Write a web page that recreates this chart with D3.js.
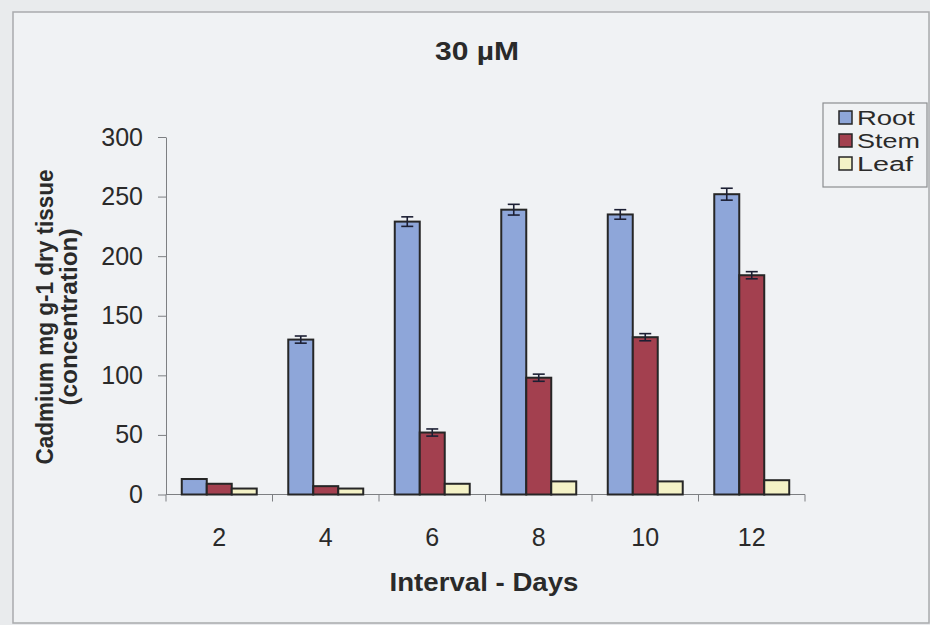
<!DOCTYPE html>
<html>
<head>
<meta charset="utf-8">
<script src="https://cdn.jsdelivr.net/npm/d3@7/dist/d3.min.js"></script>
<style>
  html, body { margin: 0; padding: 0; background: #e9ebed; }
  svg { display: block; }
  text { font-family: "Liberation Sans", Arial, sans-serif; fill: #2a2a2a; }
</style>
</head>
<body>
<svg id="chart" width="930" height="625"></svg>
<script>
// Cadmium concentration by tissue at 30 µM exposure
const days = ["2", "4", "6", "8", "10", "12"];
const seriesNames = ["Root", "Stem", "Leaf"];
const rootValues = [13, 130, 229, 239, 235, 252];
const stemValues = [9, 7, 52, 98, 132, 184];
const leafValues = [5, 5, 9, 11, 11, 12];
const rootErrors = [0, 3, 4, 4.5, 4, 5];
const stemErrors = [0, 0, 3, 3, 3, 3];
const leafErrors = [0, 0, 0, 0, 0, 0];
const yTicks = [0, 50, 100, 150, 200, 250, 300];

const seriesColors = { Root: "#8ea6d9", Stem: "#a3404f", Leaf: "#f4f2c6" };
const legendTextWidths = { Root: 58, Stem: 63, Leaf: 56 };

const values = { Root: rootValues, Stem: stemValues, Leaf: leafValues };
const errors = { Root: rootErrors, Stem: stemErrors, Leaf: leafErrors };

const svg = d3.select("#chart");

// paper panel with frame
svg.append("rect")
  .attr("x", 13).attr("y", 12).attr("width", 916).attr("height", 611)
  .attr("fill", "#f0f2f4").attr("stroke", "#a9abad").attr("stroke-width", 1.5);

const plot = { left: 166, right: 805, top: 137, bottom: 494.5 };

const x0 = d3.scaleBand().domain(days).range([plot.left, plot.right]).padding(0);
const groupGap = x0.bandwidth() * 0.296;
const x1 = d3.scaleBand().domain(seriesNames)
  .range([groupGap / 2, x0.bandwidth() - groupGap / 2]).padding(0);
const y = d3.scaleLinear().domain([0, 300]).range([plot.bottom, plot.top]);

// y axis
const yAxis = svg.append("g")
  .attr("transform", `translate(${plot.left},0)`)
  .call(d3.axisLeft(y).tickValues(yTicks).tickSize(8).tickPadding(15).tickSizeOuter(0));
yAxis.select(".domain").attr("stroke", "#7d7f82");
yAxis.selectAll(".tick line").attr("stroke", "#7d7f82");
yAxis.selectAll(".tick text")
  .attr("font-size", 25).attr("fill", "#2e2e2e")
  .style("font-family", "'Liberation Sans', Arial, sans-serif");

// x axis: ticks at category boundaries, labels centred
svg.append("line")
  .attr("x1", plot.left).attr("x2", plot.right)
  .attr("y1", plot.bottom).attr("y2", plot.bottom)
  .attr("stroke", "#7d7f82");
const boundaries = days.map(d => x0(d)).concat([x0(days[days.length - 1]) + x0.bandwidth()]);
svg.append("g").selectAll("line").data(boundaries).join("line")
  .attr("x1", d => d).attr("x2", d => d)
  .attr("y1", plot.bottom).attr("y2", plot.bottom + 7)
  .attr("stroke", "#7d7f82");
svg.append("g").selectAll("text").data(days).join("text")
  .attr("x", d => x0(d) + x0.bandwidth() / 2)
  .attr("y", 546)
  .attr("text-anchor", "middle")
  .attr("font-size", 25)
  .text(d => d);

// bars
const groups = svg.append("g").selectAll("g").data(days).join("g")
  .attr("transform", d => `translate(${x0(d)},0)`);

groups.selectAll("rect")
  .data((d, i) => seriesNames.map(s => ({ s, v: values[s][i], e: errors[s][i] })))
  .join("rect")
  .attr("x", d => x1(d.s))
  .attr("y", d => y(d.v))
  .attr("width", x1.bandwidth())
  .attr("height", d => y(0) - y(d.v))
  .attr("fill", d => seriesColors[d.s])
  .attr("stroke", "#262626")
  .attr("stroke-width", 2);

// error bars
const errData = (d, i) => seriesNames.map(s => ({ s, v: values[s][i], e: errors[s][i] })).filter(r => r.e > 0);
const err = groups.selectAll("g.err").data(errData).join("g").attr("class", "err")
  .attr("stroke", "#1c1f33").attr("stroke-width", 1.6);
err.append("line")
  .attr("x1", d => x1(d.s) + x1.bandwidth() / 2).attr("x2", d => x1(d.s) + x1.bandwidth() / 2)
  .attr("y1", d => y(d.v + d.e)).attr("y2", d => y(d.v - d.e));
err.append("line")
  .attr("x1", d => x1(d.s) + x1.bandwidth() / 2 - 6).attr("x2", d => x1(d.s) + x1.bandwidth() / 2 + 6)
  .attr("y1", d => y(d.v + d.e)).attr("y2", d => y(d.v + d.e));
err.append("line")
  .attr("x1", d => x1(d.s) + x1.bandwidth() / 2 - 6).attr("x2", d => x1(d.s) + x1.bandwidth() / 2 + 6)
  .attr("y1", d => y(d.v - d.e)).attr("y2", d => y(d.v - d.e));

// title
svg.append("text")
  .attr("x", 477).attr("y", 60)
  .attr("text-anchor", "middle")
  .attr("font-size", 25).attr("font-weight", "bold")
  .attr("textLength", 84).attr("lengthAdjust", "spacingAndGlyphs")
  .text("30 µM");

// axis titles
svg.append("text")
  .attr("x", 484).attr("y", 591)
  .attr("text-anchor", "middle")
  .attr("font-size", 25).attr("font-weight", "bold")
  .attr("textLength", 189).attr("lengthAdjust", "spacingAndGlyphs")
  .text("Interval - Days");

const yTitle = svg.append("g").attr("transform", "translate(0,317) rotate(-90)");
yTitle.append("text")
  .attr("x", 0).attr("y", 53)
  .attr("text-anchor", "middle")
  .attr("font-size", 23).attr("font-weight", "bold")
  .attr("textLength", 295).attr("lengthAdjust", "spacingAndGlyphs")
  .text("Cadmium mg g-1 dry tissue");
yTitle.append("text")
  .attr("x", 0).attr("y", 77)
  .attr("text-anchor", "middle")
  .attr("font-size", 23).attr("font-weight", "bold")
  .attr("textLength", 177).attr("lengthAdjust", "spacingAndGlyphs")
  .text("(concentration)");

// legend
const legend = svg.append("g");
legend.append("rect")
  .attr("x", 823).attr("y", 103).attr("width", 104).attr("height", 84)
  .attr("fill", "#f0f2f4").attr("stroke", "#8c8e90").attr("stroke-width", 1.2);
const items = legend.selectAll("g.item").data(seriesNames).join("g")
  .attr("class", "item")
  .attr("transform", (d, i) => `translate(839,${111 + i * 23})`);
items.append("rect")
  .attr("width", 13).attr("height", 13)
  .attr("fill", d => seriesColors[d])
  .attr("stroke", "#262626").attr("stroke-width", 1.5);
items.append("text")
  .attr("x", 18).attr("y", 13.5)
  .attr("font-size", 19.5)
  .attr("textLength", d => legendTextWidths[d]).attr("lengthAdjust", "spacingAndGlyphs")
  .text(d => d);
</script>
</body>
</html>
